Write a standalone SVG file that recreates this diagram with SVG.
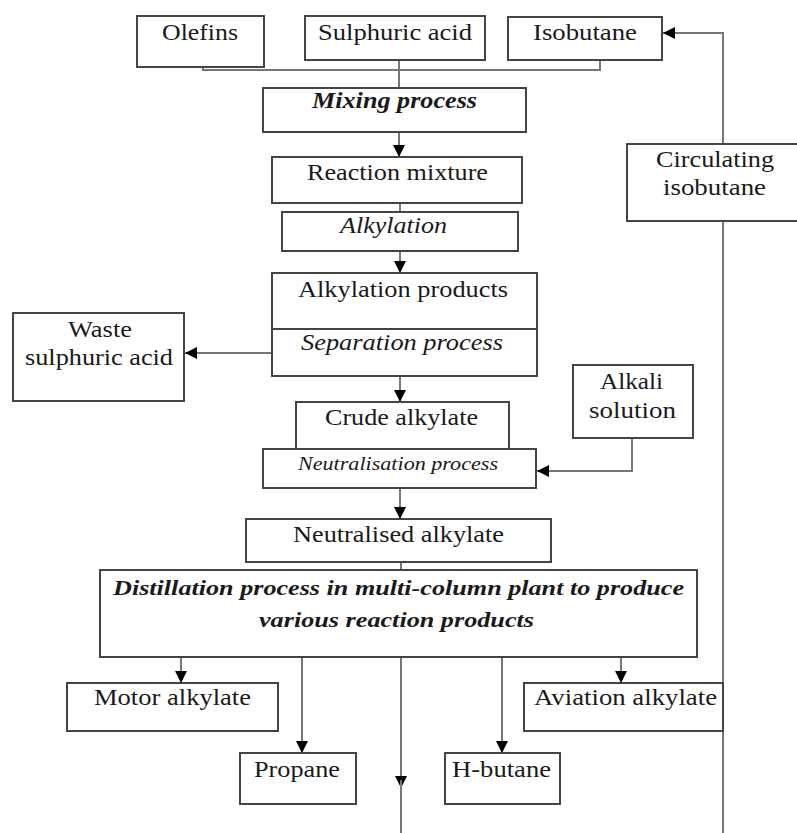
<svg xmlns="http://www.w3.org/2000/svg" width="797" height="833" viewBox="0 0 797 833">
<defs>
<marker id="ah" markerUnits="userSpaceOnUse" markerWidth="12" markerHeight="12" viewBox="0 0 12 12" refX="12" refY="6" orient="auto">
<path d="M0,0 L12,6 L0,12 Z" fill="#000"/>
</marker>
<style>
.box{fill:#fff;stroke:#444;stroke-width:2}
.ln{fill:none;stroke:#777;stroke-width:2}
.ar{fill:none;stroke:#777;stroke-width:2;marker-end:url(#ah)}
text{font-family:"Liberation Serif","Times New Roman",serif;font-size:23px;fill:#1a1a1a}
.i{font-style:italic}
.bi{font-style:italic;font-weight:bold}
</style>
</defs>
<rect width="797" height="833" fill="#fff"/>
<g id="connectors">
<polyline class="ln" points="203,67 203,70 600,70 600,60"/>
<line class="ln" x1="399" y1="60" x2="399" y2="88"/>
<line class="ar" x1="399" y1="132" x2="399" y2="157"/>
<line class="ln" x1="400" y1="203" x2="400" y2="212"/>
<line class="ar" x1="400" y1="251" x2="400" y2="273"/>
<line class="ar" x1="272" y1="353" x2="185" y2="353"/>
<line class="ar" x1="400" y1="376" x2="400" y2="402"/>
<polyline class="ar" points="632,438 632,471 537,471"/>
<line class="ar" x1="400" y1="488" x2="400" y2="519"/>
<line class="ln" x1="401" y1="562" x2="401" y2="570"/>
<line class="ar" x1="181" y1="657" x2="181" y2="683"/>
<line class="ar" x1="621" y1="657" x2="621" y2="683"/>
<line class="ar" x1="302" y1="657" x2="302" y2="753"/>
<line class="ar" x1="502" y1="657" x2="502" y2="753"/>
<line class="ar" x1="401" y1="657" x2="401" y2="788"/>
<line class="ln" x1="401" y1="780" x2="401" y2="833"/>
<polyline class="ar" points="723,144 723,33 663,33"/>
<line class="ln" x1="723" y1="221" x2="723" y2="833"/>
</g>
<g id="olefins"><rect class="box" x="137" y="16" width="127" height="51"/><text x="162" y="40" textLength="76" lengthAdjust="spacingAndGlyphs">Olefins</text></g>
<g id="sulphuric-acid"><rect class="box" x="305" y="16" width="180" height="44"/><text x="318" y="40" textLength="154" lengthAdjust="spacingAndGlyphs">Sulphuric acid</text></g>
<g id="isobutane"><rect class="box" x="508" y="17" width="154" height="43"/><text x="533" y="40" textLength="104" lengthAdjust="spacingAndGlyphs">Isobutane</text></g>
<g id="mixing"><rect class="box" x="263" y="88" width="263" height="44"/><text class="bi" x="312" y="108" textLength="165" lengthAdjust="spacingAndGlyphs">Mixing process</text></g>
<g id="circulating-isobutane"><rect class="box" x="627" y="144" width="175" height="77"/><text x="656" y="167" textLength="118" lengthAdjust="spacingAndGlyphs">Circulating</text><text x="663" y="195" textLength="103" lengthAdjust="spacingAndGlyphs">isobutane</text></g>
<g id="reaction-mixture"><rect class="box" x="272" y="157" width="250" height="46"/><text x="307" y="180" textLength="181" lengthAdjust="spacingAndGlyphs">Reaction mixture</text></g>
<g id="alkylation"><rect class="box" x="282" y="212" width="236" height="39"/><text class="i" x="340" y="233" textLength="107" lengthAdjust="spacingAndGlyphs">Alkylation</text></g>
<g id="alkylation-products"><rect class="box" x="272" y="273" width="265" height="103"/><line x1="272" y1="329" x2="537" y2="329" stroke="#444" stroke-width="2"/><text x="298" y="297" textLength="210" lengthAdjust="spacingAndGlyphs">Alkylation products</text><text class="i" x="301" y="350" textLength="202" lengthAdjust="spacingAndGlyphs">Separation process</text></g>
<g id="waste-sulphuric-acid"><rect class="box" x="13" y="313" width="171" height="88"/><text x="68" y="337" textLength="64" lengthAdjust="spacingAndGlyphs">Waste</text><text x="25" y="365" textLength="148" lengthAdjust="spacingAndGlyphs">sulphuric acid</text></g>
<g id="alkali-solution"><rect class="box" x="573" y="365" width="120" height="73"/><text x="600" y="389" textLength="63" lengthAdjust="spacingAndGlyphs">Alkali</text><text x="589" y="418" textLength="87" lengthAdjust="spacingAndGlyphs">solution</text></g>
<g id="crude-alkylate"><rect class="box" x="296" y="402" width="213" height="47"/><text x="325" y="425" textLength="153" lengthAdjust="spacingAndGlyphs">Crude alkylate</text></g>
<g id="neutralisation"><rect class="box" x="263" y="449" width="273" height="39"/><text class="i" x="298" y="470" style="font-size:18px" textLength="200" lengthAdjust="spacingAndGlyphs">Neutralisation process</text></g>
<g id="neutralised-alkylate"><rect class="box" x="246" y="519" width="305" height="43"/><text x="293" y="542" textLength="211" lengthAdjust="spacingAndGlyphs">Neutralised alkylate</text></g>
<g id="distillation"><rect class="box" x="100" y="570" width="597" height="87"/><text class="bi" x="113" y="595" style="font-size:22px" textLength="571" lengthAdjust="spacingAndGlyphs">Distillation process in multi-column plant to produce</text><text class="bi" x="259" y="627" style="font-size:22px" textLength="275" lengthAdjust="spacingAndGlyphs">various reaction products</text></g>
<g id="motor-alkylate"><rect class="box" x="67" y="683" width="211" height="48"/><text x="94" y="705" textLength="157" lengthAdjust="spacingAndGlyphs">Motor alkylate</text></g>
<g id="aviation-alkylate"><rect class="box" x="524" y="683" width="199" height="48"/><text x="534" y="705" textLength="183" lengthAdjust="spacingAndGlyphs">Aviation alkylate</text></g>
<g id="propane"><rect class="box" x="240" y="753" width="116" height="51"/><text x="254" y="777" textLength="86" lengthAdjust="spacingAndGlyphs">Propane</text></g>
<g id="h-butane"><rect class="box" x="445" y="753" width="115" height="51"/><text x="452" y="777" textLength="99" lengthAdjust="spacingAndGlyphs">H-butane</text></g>
</svg>
